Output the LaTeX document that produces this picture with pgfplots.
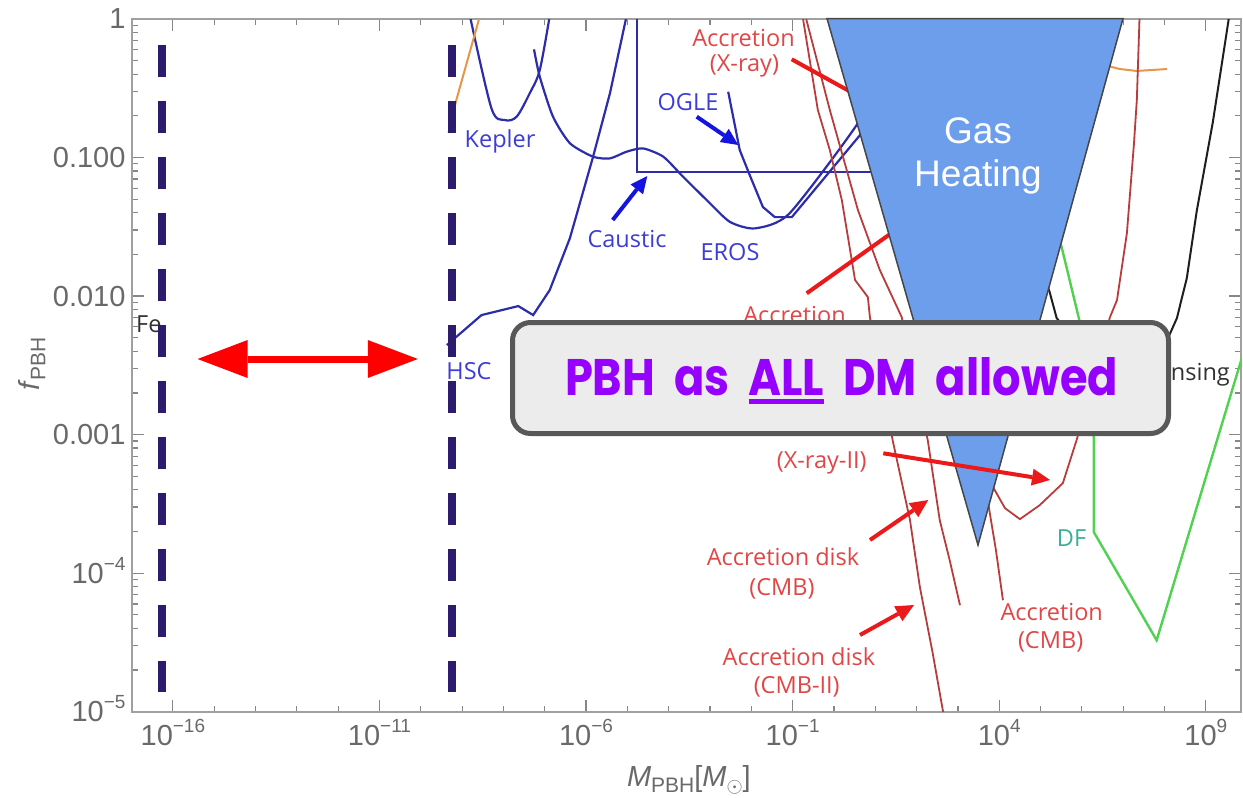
\documentclass[border=0pt]{standalone}
\usepackage{fontspec}
\setmainfont{Liberation Sans}
\newfontfamily\labfont{Open Sans}
\newfontfamily\pfont{Poppins}
\usepackage{pgfplots}
\pgfplotsset{compat=1.18}
\usetikzlibrary{arrows.meta}
\definecolor{blueC}{RGB}{45,45,170}
\definecolor{blueT}{RGB}{60,60,215}
\definecolor{blueA}{RGB}{20,20,225}
\definecolor{redC}{RGB}{185,60,60}
\definecolor{redT}{RGB}{225,70,70}
\definecolor{redA}{RGB}{235,25,25}
\definecolor{greenC}{RGB}{80,210,80}
\definecolor{tealT}{RGB}{60,175,150}
\definecolor{orangeC}{RGB}{230,150,70}
\definecolor{blackC}{RGB}{30,30,30}
\definecolor{dashC}{RGB}{45,27,110}
\definecolor{gasblue}{RGB}{109,158,235}
\definecolor{gasedge}{RGB}{70,70,70}
\definecolor{boxgray}{RGB}{236,236,236}
\definecolor{boxedge}{RGB}{88,88,88}
\definecolor{purp}{RGB}{150,0,255}
\definecolor{labgray}{RGB}{105,105,105}
\definecolor{tickgray}{RGB}{135,135,135}
\definecolor{axisgray}{RGB}{160,160,160}
\definecolor{darkT}{RGB}{50,50,50}
\newcommand\tp[1]{10\raisebox{13pt}[0pt][0pt]{\fontsize{19}{19}\selectfont #1}}
\newcommand\ULine[1]{\leavevmode\setbox0\hbox{#1}\rlap{\rule[-8.5pt]{\wd0}{5pt}}\box0\relax}
\newcommand\lab{\labfont\fontsize{23.5}{23.5}\selectfont}
\newcommand\allowedtext{\resizebox{553pt}{38pt}{\pfont\fontsize{50}{60}\selectfont\bfseries PBH\ \ as\ \ \ULine{ALL}\ \ DM\ \ allowed}}
\begin{document}
\begin{tikzpicture}
\begin{axis}[
  at={(132.4pt,-711.7pt)}, anchor=south west,
  scale only axis, width=1108.6pt, height=692.7pt,
  xmode=log, ymode=log,
  xmin=1.047e-17, xmax=7.079e9, ymin=1e-5, ymax=1,
  xtick={1e-16,1e-11,1e-6,1e-1,1e4,1e9},
  xticklabels={\tp{−16},\tp{−11},\tp{−6},\tp{−1},\tp{4},\tp{9}},
  minor xtick={1e-17,1e-15,1e-14,1e-13,1e-12,1e-10,1e-9,1e-8,1e-7,1e-5,1e-4,1e-3,1e-2,1,10,100,1000,1e5,1e6,1e7,1e8},
  ytick={1e-5,1e-4,1e-3,1e-2,1e-1,1},
  yticklabels={\tp{−5},\tp{−4},0.001,0.010,0.100,1},
  minor ytick={2e-5,3e-5,4e-5,5e-5,6e-5,7e-5,8e-5,9e-5,2e-4,3e-4,4e-4,5e-4,6e-4,7e-4,8e-4,9e-4,2e-3,3e-3,4e-3,5e-3,6e-3,7e-3,8e-3,9e-3,2e-2,3e-2,4e-2,5e-2,6e-2,7e-2,8e-2,9e-2,0.2,0.3,0.4,0.5,0.6,0.7,0.8,0.9},
  tick align=inside,
  major tick length=12pt, minor tick length=6pt,
  tick style={draw=tickgray, line width=1.2pt},
  axis line style={draw=axisgray, line width=1.8pt},
  xticklabel style={font=\fontsize{29}{29}\selectfont, text=labgray, inner sep=0pt},
  yticklabel style={font=\fontsize{29}{29}\selectfont, text=labgray, inner sep=0pt},
  xticklabel shift=13pt, yticklabel shift=6.7pt,
  xlabel={\textit{M}\raisebox{-6pt}{\fontsize{21}{21}\selectfont PBH}[\textit{M}\raisebox{-6pt}{\fontsize{21}{21}\selectfont$\odot$}]},
  ylabel={\textit{f}\raisebox{-6pt}{\fontsize{21}{21}\selectfont PBH}},
  xlabel style={at={(axis description cs:0.502,-0.0986)}, anchor=center, font=\fontsize{29}{29}\selectfont, text=labgray, inner sep=0pt},
  ylabel style={at={(axis description cs:-0.0906,0.502)}, anchor=center, font=\fontsize{29}{29}\selectfont, text=labgray, inner sep=0pt},
]
% Kepler
\addplot[no markers, smooth, tension=0.5, color=blueC, line width=2.2pt] coordinates {(1.549e-9,1.05) (5.129e-9,0.2265) (1.072e-8,0.1866) (2.089e-8,0.1972) (4.365e-8,0.2924) (7.586e-8,0.4285) (1.318e-7,1.05)};
% HSC
\addplot[no markers, color=blueC, line width=2.2pt] coordinates {(4.266e-10,4.43e-3) (2.951e-9,7.295e-3) (2.291e-8,8.472e-3) (5.248e-8,7.295e-3) (1.318e-7,1.104e-2) (4.074e-7,2.624e-2) (1.479e-6,0.1014) (3.802e-6,0.2924) (9.550e-6,1.05)};
% EROS
\addplot[no markers, smooth, tension=0.4, color=blueC, line width=2.2pt] coordinates {(5.495e-8,0.6039) (7.586e-8,0.3828) (1.585e-7,0.1972) (4.074e-7,0.1268) (1.479e-6,0.1014) (3.802e-6,9.863e-2) (9.550e-6,0.1102) (2.399e-5,0.1164) (7.413e-5,0.1014) (2.239e-4,7.261e-2) (8.318e-4,4.932e-2) (3.020e-3,3.436e-2) (1.230e-2,3.083e-2) (8.511e-2,3.972e-2) (4.266,0.1866) (15,0.45)};
% OGLE
\addplot[no markers, color=blueC, line width=2.2pt] coordinates {(2.754e-3,0.2985) (5.248e-3,0.1132) (9.120e-3,7.482e-2) (1.905e-2,4.395e-2) (3.715e-2,3.715e-2) (9.550e-2,3.715e-2) (4.266,0.1452) (15,0.35)};
% Caustic box
\addplot[no markers, color=blueC, line width=2.2pt] coordinates {(1.738e-5,1.05) (1.738e-5,7.816e-2) (20,7.816e-2)};
% orange
\addplot[no markers, color=orangeC, line width=2pt] coordinates {(2.692e-9,1.05) (7.244e-10,0.26) (4.677e-10,0.1503)};
\addplot[no markers, color=orangeC, line width=2pt] coordinates {(3.162e6,0.4677) (8.318e6,0.4355) (2.138e7,0.4217) (4.898e7,0.4285) (1.148e8,0.4355)};
% red accretion curves
\addplot[no markers, color=redC, line width=1.8pt] coordinates {(0.1738,1.05) (0.4074,0.2203) (0.7943,0.1132) (1.549,4.932e-2) (3.236,1.306e-2) (6.607,9.840e-3) (7.413,7.047e-3) (26.30,9.120e-4) (69.18,2.415e-4) (120.2,7.925e-5) (245.5,2.642e-5) (501.2,7.943e-6)};
\addplot[no markers, color=redC, line width=1.8pt] coordinates {(0.2042,1.05) (0.7943,0.2203) (3.802,4.178e-2) (12.88,1.542e-2) (43.65,7.047e-3) (186.2,9.120e-4) (363.1,2.415e-4) (631.0,1.242e-4) (1122,5.875e-5)};
\addplot[no markers, color=redC, line width=1.8pt] coordinates {(1950,9.120e-4) (5248,3.365e-4) (8318,1.466e-4) (12300,6.383e-5)};
\addplot[no markers, color=redC, line width=1.8pt] coordinates {(2.512e7,1.122) (2.138e7,0.2600) (1.820e7,0.1250) (1.230e7,2.851e-2) (7.079e6,9.354e-3) (4.786e6,7.047e-3) (7.586e5,9.290e-4) (3.467e5,4.467e-4) (9.550e4,3.097e-4) (3.162e4,2.455e-4) (1.380e4,2.944e-4) (7079,4.178e-4) (4467,6.546e-4)};
% lensing (black)
\addplot[no markers, color=blackC, line width=2pt] coordinates {(7.244e4,2.148e-2) (1.660e5,1.069e-2) (2.455e5,6.934e-3) (8.913e5,4.426e-3) (8.318e6,3.945e-3) (1.023e8,4.426e-3) (1.995e8,6.934e-3) (3.467e8,1.349e-2) (6.026e8,4.111e-2) (1.479e9,0.1803) (3.802e9,1.122)};
% DF (green)
\addplot[no markers, color=greenC, line width=2.4pt] coordinates {(1.660e5,4.178e-2) (3.236e5,2.259e-2) (8.913e5,6.486e-3) (1.950e6,9.441e-4) (1.950e6,1.977e-4) (6.457e7,3.281e-5) (7.943e9,3.811e-3)};
% labels partly hidden by the dashed lines
\node[font=\lab, text=blueT, anchor=base, inner sep=0pt] at (rel axis cs:0.3036,0.4789) {HSC};
\node[font=\lab, text=darkT, anchor=base west, inner sep=0pt] at (rel axis cs:0.00325,0.5481) {Fe};
% mass window (dashed)
\addplot[no markers, color=dashC, line width=8pt, dash pattern=on 32pt off 24pt] coordinates {(5.420e-17,0.6486) (5.420e-17,1.384e-5)};
\addplot[no markers, color=dashC, line width=8pt, dash pattern=on 32pt off 24pt] coordinates {(5.585e-10,0.6486) (5.585e-10,1.384e-5)};
\end{axis}
\begin{scope}[x=1pt,y=-1pt]
% curve labels
\node[font=\lab, text=blueT, anchor=base, inner sep=0pt] at (500,147.3) {Kepler};
\node[font=\lab, text=blueT, anchor=base, inner sep=0pt] at (627,247.3) {Caustic};
\node[font=\lab, text=blueT, anchor=base, inner sep=0pt] at (730,260) {EROS};
\node[font=\lab, text=blueT, anchor=base, inner sep=0pt] at (688,110) {OGLE};
\node[font=\lab, text=redT, anchor=base, inner sep=0pt] at (743.5,46.7) {Accretion};
\node[font=\lab, text=redT, anchor=base, inner sep=0pt] at (744.5,71.7) {(X-ray)};
\node[font=\lab, text=redT, anchor=base, inner sep=0pt] at (794.5,323) {Accretion};
\node[font=\lab, text=redT, anchor=base, inner sep=0pt] at (821.7,468.3) {(X-ray-II)};
\node[font=\lab, text=redT, anchor=base, inner sep=0pt] at (783,565) {Accretion disk};
\node[font=\lab, text=redT, anchor=base, inner sep=0pt] at (782,595) {(CMB)};
\node[font=\lab, text=redT, anchor=base, inner sep=0pt] at (798.9,665) {Accretion disk};
\node[font=\lab, text=redT, anchor=base, inner sep=0pt] at (796.7,693.3) {(CMB-II)};
\node[font=\lab, text=redT, anchor=base, inner sep=0pt] at (1051.7,620) {Accretion};
\node[font=\lab, text=redT, anchor=base, inner sep=0pt] at (1050.6,648.3) {(CMB)};
\node[font=\lab, text=tealT, anchor=base, inner sep=0pt] at (1071.6,546.7) {DF};
\node[font=\lab, text=darkT, anchor=base east, inner sep=0pt] at (1230,380) {Lensing};
% pointer lines under the triangle
\draw[redA, line width=4pt] (791.7,59.3) -- (860,97);
\draw[redA, line width=4pt] (806.7,293.3) -- (900,227);
% gas heating triangle
\filldraw[fill=gasblue, draw=gasedge, line width=1.5pt] (827,18.5) -- (1123,18.5) -- (978,545) -- cycle;
\node[text=white, font=\fontsize{37}{37}\selectfont, anchor=base, inner sep=0pt] at (978,143.3) {Gas};
\node[text=white, font=\fontsize{37}{37}\selectfont, anchor=base, inner sep=0pt] at (978,186.7) {Heating};
% arrows
\draw[redA, line width=4pt, -{Triangle[length=18pt,width=17pt,line width=0pt]}] (883.3,453.3) -- (1050,480);
\draw[redA, line width=4pt, -{Triangle[length=18pt,width=17pt,line width=0pt]}] (870,540) -- (928.3,500);
\draw[redA, line width=4pt, -{Triangle[length=18pt,width=17pt,line width=0pt]}] (860,635) -- (914,605);
\draw[blueA, line width=4pt, -{Triangle[length=17pt,width=16pt,line width=0pt]}] (696.7,116.7) -- (738.3,145);
\draw[blueA, line width=4pt, -{Triangle[length=17pt,width=16pt,line width=0pt]}] (612.7,220) -- (647.3,176);
% allowed box
\filldraw[rounded corners=18pt, fill=boxgray, draw=boxedge, line width=5pt] (512.5,322.5) rectangle (1168.5,433.5);
\node[anchor=base, inner sep=0pt, text=purp] at (841.5,395.5) {\allowedtext};
% red double arrow
\draw[draw=red, line width=7pt, {Triangle[length=50pt,width=38pt,line width=0pt]}-{Triangle[length=50pt,width=38pt,line width=0pt]}] (197.6,359) -- (417.8,359);
\end{scope}
\pgfresetboundingbox
\path[x=1pt,y=-1pt] (0,0) rectangle (1243,798);
\end{tikzpicture}
\end{document}
